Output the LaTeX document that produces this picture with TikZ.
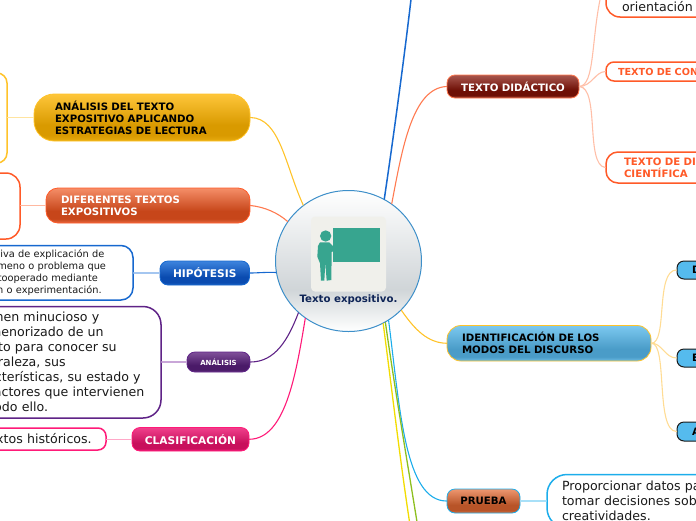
\documentclass[tikz,border=0pt]{standalone}
\usepackage{fontspec}
\setmainfont{DejaVu Sans}
\usetikzlibrary{shapes.geometric}
\definecolor{inkdark}{HTML}{1A1A1A}
\definecolor{navy}{HTML}{0F2557}
\definecolor{teal1}{HTML}{37A58F}
\definecolor{iconbg}{HTML}{F0F0EB}
\definecolor{cyel}{HTML}{FFC32A}
\definecolor{cred}{HTML}{FF5A28}
\definecolor{cora}{HTML}{FF7A50}
\definecolor{cblu}{HTML}{1668CF}
\definecolor{cpur}{HTML}{5F2387}
\definecolor{cpnk}{HTML}{FF1A78}
\definecolor{ccya}{HTML}{1CADEB}
\definecolor{cgrn}{HTML}{8DBF1F}
\definecolor{cyl2}{HTML}{F2DC00}
\definecolor{ccen}{HTML}{3D8FC9}
\definecolor{cdea}{HTML}{55BBEE}
\definecolor{lyel}{HTML}{FFE4A0}
\definecolor{lred}{HTML}{FFB8A0}
\definecolor{lblu}{HTML}{A4C6F0}
\definecolor{lpur}{HTML}{C9A6D8}
\definecolor{lpnk}{HTML}{FFA8C8}
\definecolor{lcya}{HTML}{A8E0F8}
\definecolor{ldid}{HTML}{FFBFA8}
\definecolor{lide}{HTML}{FFDC94}
\newcommand{\mkshade}[5]{%
 \definecolor{#1a}{HTML}{#2}\definecolor{#1b}{HTML}{#3}\definecolor{#1c}{HTML}{#4}\definecolor{#1d}{HTML}{#5}%
 \pgfdeclareverticalshading{#1}{100bp}{color(0bp)=(#1d);color(25bp)=(#1d);color(31bp)=(#1c);color(42bp)=(#1c);color(75bp)=(#1a);color(100bp)=(#1a)}}
\mkshade{shyel}{FEC63A}{F3AE14}{D99A00}{E8AC10}
\mkshade{shred}{F58E68}{DE5A30}{C7461A}{E86A42}
\mkshade{shblu}{3D84DE}{1E62C4}{0A4BB0}{1A5EC0}
\mkshade{shpur}{80509A}{5E2D78}{4A1A68}{6A3A85}
\mkshade{shpnk}{F0408C}{E01F70}{C8105C}{F01A78}
\mkshade{shdid}{A8564E}{8A2C20}{6E0F05}{A84B3A}
\mkshade{shide}{7CC9F0}{62B6E0}{4A9CC8}{6CBCE4}
\mkshade{shpru}{EE9770}{D9704A}{B85428}{D97040}
\definecolor{cia}{HTML}{FFFFFF}\definecolor{cib}{HTML}{D0D5D8}\definecolor{cic}{HTML}{FFFFFF}
\pgfdeclareverticalshading{shcen}{100bp}{color(0bp)=(cic);color(25bp)=(cic);color(40bp)=(cib);color(75bp)=(cia);color(100bp)=(cia)}
\tikzset{
 x=1pt,y=-1pt,
 pill/.style={inner ysep=0pt,align=left,font=\fontsize{10.2}{12}\selectfont\bfseries},
 wide/.style={font=\fontsize{10.6}{12}\selectfont\bfseries},
 outl/.style={pill,fill=white,line width=1.5pt},
 bodytxt/.style={font=\fontsize{12.6}{15}\selectfont,text=inkdark},
 smalltxt/.style={font=\fontsize{9.8}{12}\selectfont,text=inkdark},
 main/.style={line width=1.1pt,line cap=round},
 kid/.style={line width=1.1pt,line cap=round},
}
\newcommand{\bx}[8]{% name x1 y1 x2 y2 pad style text
 \pgfmathsetmacro{\bw}{#4-(#2)}\pgfmathsetmacro{\bh}{#5-(#3)}%
 \pgfmathsetmacro{\tw}{\bw-2*#6}\pgfmathsetmacro{\cx}{((#2)+(#4))/2}\pgfmathsetmacro{\cy}{((#3)+(#5))/2}%
 \node[#7,minimum width=\bw pt,minimum height=\bh pt,inner xsep=#6 pt,text width=\tw pt] (#1) at (\cx,\cy) {#8};}
\newcommand{\rl}[2]{\makebox[#1pt][r]{#2}}
\begin{document}
\begin{tikzpicture}
\useasboundingbox (0,0) rectangle (696,520);
\clip (0,0) rectangle (696,520);
% centre
\node[ellipse,draw=ccen,line width=1pt,shading=shcen,minimum width=146pt,minimum height=141pt,inner sep=0pt] (c) at (348.5,261) {};
\node[fill=iconbg,rounded corners=4pt,minimum width=75pt,minimum height=75pt,inner sep=0pt] (icon) at (348.5,254) {};
\node[fill=teal1,minimum width=47.4pt,minimum height=33.7pt,inner sep=0pt] (board) at (356.7,245.2) {};
\begin{scope}[shift={(270,180)},x=0.3333pt,y=-0.3333pt]
 \fill[teal1] (167,168) circle[radius=17];
 \fill[teal1] (150,187)--(178,187)--(190,199)--(228,195)--(236,204)--(228,212)--(192,213)--(185,216)--(184,300)--(170,302)--(166,248)--(163,302)--(153,302)--(150,250)--(142,230)--(144,198)--cycle;
\end{scope}
\node[font=\fontsize{10.2}{12}\selectfont\bfseries,text=navy,inner sep=0pt] (ct) at (348.5,300) {Texto expositivo.};
% left branch
\bx{a}{34}{94}{250}{141}{21}{pill,draw=cyel,line width=.8pt,shading=shyel,rounded corners=20pt}{ANÁLISIS DEL TEXTO\\EXPOSITIVO APLICANDO\\ESTRATEGIAS DE LECTURA}
\bx{a1}{-40}{73}{7}{163}{2}{outl,draw=cyel,rounded corners=10pt}{}
\bx{b}{46}{188}{250}{223}{15}{pill,draw=cred,line width=.8pt,shading=shred,rounded corners=12pt,text=white}{DIFERENTES TEXTOS\\EXPOSITIVOS}
\bx{b1}{-40}{173}{20}{239}{2}{outl,draw=cred,rounded corners=14pt}{}
\bx{h}{160}{261}{249.5}{285}{2}{pill,wide,draw=cblu,line width=.8pt,shading=shblu,rounded corners=8pt,text=white,align=center}{HIPÓTESIS}
\bx{h1}{-40}{245.5}{133}{300}{40}{outl,smalltxt,draw=cblu,rounded corners=12pt}{\rl{104.3}{iva de explicación de}\\\rl{106}{meno o problema que}\\\rl{98}{tooperado mediante}\\\rl{101.7}{n o experimentación.}}
\bx{p}{187}{352}{250}{372}{2}{pill,draw=cpur,line width=.8pt,shading=shpur,rounded corners=8pt,text=white,align=center,font=\fontsize{7}{9}\selectfont\bfseries}{ANÁLISIS}
\bx{p1}{-60}{306.5}{161}{418}{60}{outl,bodytxt,draw=cpur,rounded corners=18pt}{\rl{99.3}{nen minucioso y}\\\rl{103.7}{menorizado de un}\\\rl{116.7}{to para conocer su}\\\rl{65.7}{raleza, sus}\\\rl{140.7}{cterísticas, su estado y}\\\rl{144.3}{actores que intervienen}\\\rl{48}{odo ello.}}
\bx{q}{132}{427.5}{249}{451}{2}{pill,wide,draw=cpnk,line width=.8pt,shading=shpnk,rounded corners=8pt,text=white,align=center}{CLASIFICACIÓN}
\bx{q1}{-60}{428}{106}{450}{60}{outl,bodytxt,draw=cpnk,rounded corners=8pt}{\rl{91.7}{xtos históricos.}}
% right branch
\bx{d}{447}{75}{579}{98}{2}{pill,draw=cora,line width=.8pt,shading=shdid,rounded corners=8pt,text=white,align=center}{TEXTO DIDÁCTICO}
\bx{d1}{606}{-39}{760}{17}{16}{outl,bodytxt,draw=cred,rounded corners=14pt}{\mbox{}\\\mbox{}\\\mbox{}\\orientación}
\bx{d2}{606}{62}{760}{81}{12}{outl,draw=cred,text=cred,rounded corners=8pt,font=\fontsize{9.7}{12}\selectfont\bfseries}{TEXTO DE CON}
\bx{d3}{606}{152}{760}{183}{18}{outl,draw=cred,text=cred,rounded corners=12pt}{TEXTO DE DI\\CIENTÍFICA}
\bx{i}{447}{325.5}{651}{361}{15}{pill,draw=cyel,line width=.8pt,shading=shide,rounded corners=14pt}{IDENTIFICACIÓN DE LOS\\MODOS DEL DISCURSO}
\bx{i1}{677}{261}{760}{279}{15}{pill,draw=inkdark,line width=1pt,fill=cdea,rounded corners=7pt}{D}
\bx{i2}{677}{349}{760}{367}{15}{pill,draw=inkdark,line width=1pt,fill=cdea,rounded corners=7pt}{E}
\bx{i3}{677}{422}{760}{441}{15}{pill,draw=inkdark,line width=1pt,fill=cdea,rounded corners=7pt}{A}
\bx{r}{447}{489}{520}{513}{2}{pill,draw=ccya,line width=.8pt,shading=shpru,rounded corners=8pt,align=center}{PRUEBA}
\bx{r1}{547}{474.5}{760}{528}{15}{outl,bodytxt,draw=ccya,rounded corners=20pt}{Proporcionar datos pa\\tomar decisiones sob\\creatividades.}
% free ends
\coordinate (topblue) at (411.5,-5);
\coordinate (topkid) at (601,-5);
\coordinate (botgreen) at (417.5,525);
\coordinate (botyel) at (410,525);
% main connectors
\draw[main,color=cyel] (a.east) .. controls (280,118) and (285,165) .. (c.129);
\draw[main,color=cora] (b.east) .. controls (265,207) and (278,213) .. (c.147);
\draw[main,color=cblu] (h.east) .. controls (258,273) and (266,272) .. (c.189);
\draw[main,color=cpur] (p.east) .. controls (275,362) and (288,340) .. (c.226);
\draw[main,color=cpnk] (q.east) .. controls (285,439) and (296,375) .. (c.233.5);
\draw[main,color=cblu,line width=1.5pt] (c.60.5) .. controls (393,140) and (404,60) .. (topblue);
\draw[main,color=cora] (c.53) .. controls (402,150) and (412,88) .. (d.west);
\draw[main,color=cyel] (c.-43) .. controls (415,330) and (428,343) .. (i.west);
\draw[main,color=ccya] (c.-56.6) .. controls (400,410) and (405,501) .. (r.west);
\draw[main,color=cgrn,line width=1.3pt] (c.-59) .. controls (395,390) and (407,460) .. (botgreen);
\draw[main,color=cyl2,line width=1.3pt] (c.-61) .. controls (392,390) and (400,460) .. (botyel);
% child connectors
\draw[kid,color=lyel] (a1.east |- a.west) -- (a.west);
\draw[kid,color=lred] (b1.east |- b.west) -- (b.west);
\draw[kid,color=lblu] (h1.east |- h.west) -- (h.west);
\draw[kid,color=lpur] (p1.east |- p.west) -- (p.west);
\draw[kid,color=lpnk] (q1.east |- q.west) -- (q.west);
\draw[kid,color=lcya] (r.east) -- (r1.west |- r.east);
\draw[kid,color=ldid] (d.east) .. controls (595,85) and (591,40) .. (topkid);
\draw[kid,color=ldid] (d.east) .. controls (592,86) and (595,72) .. (d2.west);
\draw[kid,color=ldid] (d.east) .. controls (600,88) and (585,165) .. (d3.west);
\draw[kid,color=lide] (i.east) .. controls (668,343) and (655,270) .. (i1.west);
\draw[kid,color=lide] (i.east) .. controls (662,343) and (665,358) .. (i2.west);
\draw[kid,color=lide] (i.east) .. controls (668,343) and (655,431) .. (i3.west);
\end{tikzpicture}
\end{document}
